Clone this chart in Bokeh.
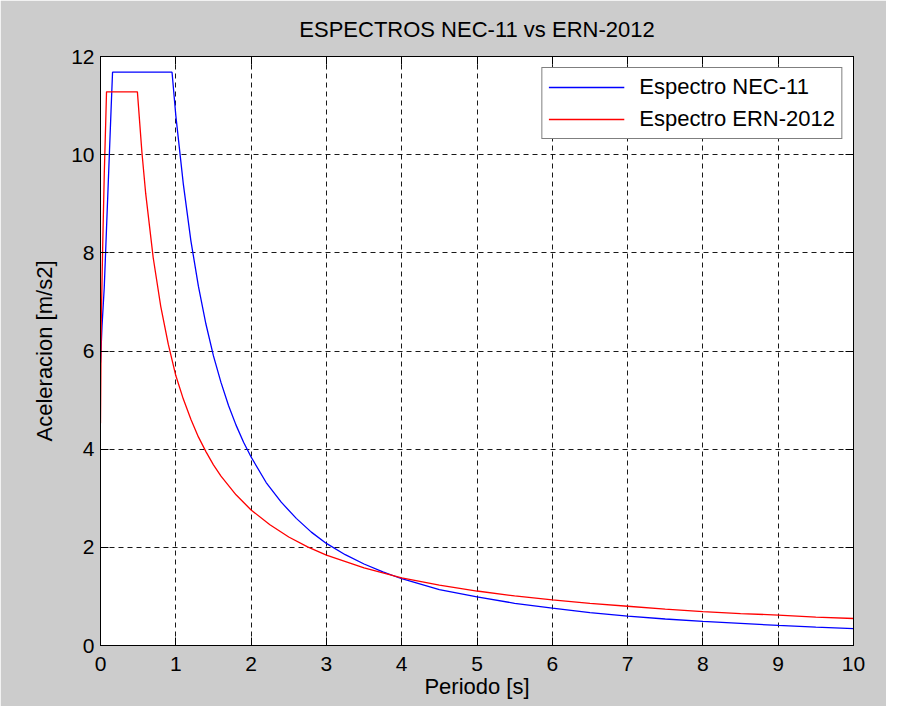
from bokeh.plotting import figure
from bokeh.models import LinearAxis, FixedTicker, Range1d, CustomJSTickFormatter
from bokeh.embed import file_html
from bokeh.resources import INLINE

# ---- data ----
T_nec = [0, 0.02, 0.05, 0.08, 0.10, 0.12, 0.14, 0.16, 0.95, 1.0, 1.1, 1.2, 1.3, 1.4,
         1.5, 1.6, 1.7, 1.8, 1.9, 2.0, 2.2, 2.4, 2.6, 2.8, 3.0, 3.25, 3.5, 3.75, 4.0,
         4.5, 5.0, 5.5, 6.0, 6.5, 7.0, 7.5, 8.0, 8.5, 9.0, 9.5, 10.0]
Sa_nec = [5.76, 6.5, 7.3, 8.5, 9.3, 10.1, 10.9, 11.68, 11.68, 10.8, 9.40, 8.25, 7.32, 6.55,
          5.90, 5.36, 4.89, 4.49, 4.14, 3.84, 3.32, 2.92, 2.59, 2.31, 2.08, 1.85, 1.66, 1.50, 1.36,
          1.14, 0.99, 0.86, 0.76, 0.67, 0.60, 0.54, 0.49, 0.45, 0.41, 0.375, 0.345]

T_ern = [0, 0.01, 0.03, 0.05, 0.07, 0.08, 0.49, 0.55, 0.6, 0.7, 0.8, 0.9, 1.0, 1.1, 1.2,
         1.3, 1.4, 1.5, 1.6, 1.8, 2.0, 2.25, 2.5, 2.75, 3.0, 3.5, 4.0, 4.5, 5.0, 5.5, 6.0,
         6.5, 7.0, 7.5, 8.0, 8.5, 9.0, 9.5, 10.0]
Sa_ern = [4.53, 6.6, 8.2, 9.6, 10.7, 11.28, 11.28, 10.05, 9.21, 7.90, 6.91, 6.14, 5.50, 5.02, 4.61,
          4.25, 3.95, 3.68, 3.45, 3.07, 2.76, 2.46, 2.21, 2.01, 1.84, 1.58, 1.38, 1.23, 1.11, 1.01, 0.93,
          0.86, 0.80, 0.74, 0.69, 0.65, 0.62, 0.58, 0.55]

x_ticks = [0, 1, 2, 3, 4, 5, 6, 7, 8, 9, 10]
y_ticks = [0, 2, 4, 6, 8, 10, 12]

title_text = "ESPECTROS NEC-11 vs ERN-2012"
x_label = "Periodo [s]"
y_label = "Aceleracion [m/s2]"
label_nec = "Espectro NEC-11"
label_ern = "Espectro ERN-2012"

FONT = "Liberation Sans"
GRAY = "#CCCCCC"

p = figure(width=886, height=706, output_backend="svg", toolbar_location=None,
           x_range=Range1d(0, 10), y_range=Range1d(0, 12),
           min_border_left=100, min_border_right=33, min_border_top=56, min_border_bottom=61)
p.background_fill_color = "white"
p.border_fill_color = GRAY
p.outline_line_color = "black"
p.outline_line_width = 1

for ax, ticks in ((p.xaxis[0], x_ticks), (p.yaxis[0], y_ticks)):
    ax.ticker = FixedTicker(ticks=ticks)
    ax.major_tick_in = 8
    ax.major_tick_out = 0
    ax.minor_tick_line_color = None
    ax.axis_line_color = "black"
    ax.major_tick_line_color = "black"
    ax.major_label_text_font = FONT
    ax.major_label_text_font_size = "21px"
    ax.major_label_text_color = "black"
    ax.axis_label_text_font = FONT
    ax.axis_label_text_font_size = "22px"
    ax.axis_label_text_font_style = "normal"
    ax.axis_label_text_color = "black"

p.xaxis.axis_label = x_label
p.yaxis.axis_label = y_label
p.xaxis.major_label_standoff = 11
p.xaxis.axis_label_standoff = 0
p.yaxis.major_label_standoff = 6
p.yaxis.axis_label_standoff = 11

empty = CustomJSTickFormatter(code="return ''")
# top axis: inward ticks only, its axis label serves as the chart title
top = LinearAxis(ticker=FixedTicker(ticks=x_ticks), formatter=empty, major_tick_in=8,
                 major_tick_out=0, minor_tick_line_color=None, major_label_standoff=0,
                 axis_line_color="black", axis_label=title_text, axis_label_standoff=15,
                 axis_label_text_font=FONT, axis_label_text_font_size="22px",
                 axis_label_text_font_style="normal", axis_label_text_color="black")
right = LinearAxis(ticker=FixedTicker(ticks=y_ticks), formatter=empty, major_tick_in=8,
                   major_tick_out=0, minor_tick_line_color=None, major_label_standoff=0,
                   axis_line_color="black")
p.add_layout(top, "above")
p.add_layout(right, "right")

p.xgrid.ticker = FixedTicker(ticks=x_ticks)
p.ygrid.ticker = FixedTicker(ticks=y_ticks)
for g in (p.xgrid[0], p.ygrid[0]):
    g.grid_line_color = "black"
    g.grid_line_dash = "5 4"
    g.grid_line_width = 1
    g.grid_line_alpha = 0.9

p.line(T_nec, Sa_nec, line_color="#0000FF", line_width=1.3, legend_label=label_nec)
p.line(T_ern, Sa_ern, line_color="#FF0000", line_width=1.3, legend_label=label_ern)

lg = p.legend[0]
lg.location = "top_right"
lg.margin = 11
lg.padding = 6
lg.spacing = 6
lg.glyph_width = 76
lg.glyph_height = 20
lg.label_height = 20
lg.label_standoff = 15
lg.label_text_font = FONT
lg.label_text_font_size = "22px"
lg.label_text_color = "black"
lg.border_line_color = "black"
lg.border_line_width = 1
lg.background_fill_color = "white"
lg.background_fill_alpha = 1

open("out.html", "w").write(file_html(p, INLINE))
